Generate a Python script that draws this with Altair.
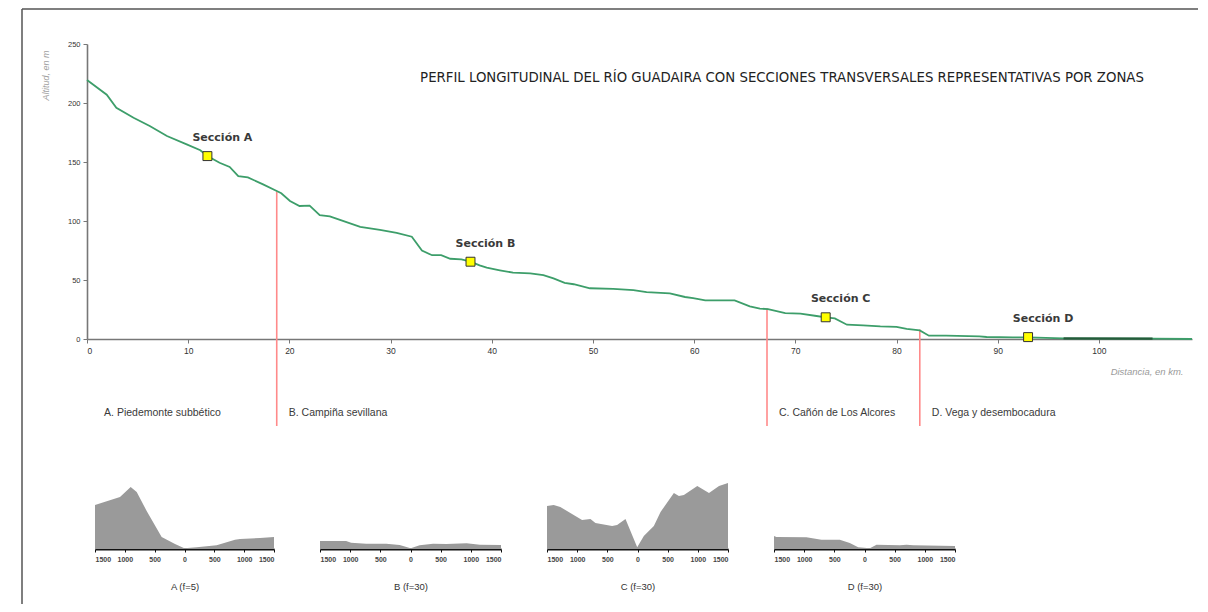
import altair as alt
import pandas as pd

# ---------------- data ----------------
title_text = "PERFIL LONGITUDINAL DEL RÍO GUADAIRA CON SECCIONES TRANSVERSALES REPRESENTATIVAS POR ZONAS"

profile_km = [0, 1.95, 2.9, 4.6, 6.2, 7.9, 9.85, 11.2, 11.9, 13.1, 14.1, 14.95, 15.9, 17.4,
              18.75, 19.2, 20.06, 21.0, 22.0, 23.0, 24.0, 25.0, 27.0, 28.95, 30.6, 32.1, 33.1,
              34.1, 35.0, 35.9, 37.0, 37.9, 38.8, 39.5, 40.8, 42.1, 43.8, 45.1, 46.1, 47.2,
              48.1, 49.7, 52.0, 54.0, 55.3, 57.6, 59.1, 59.9, 61.1, 64.0, 65.5, 66.5, 67.3,
              69.0, 70.5, 72.1, 73.0, 73.9, 75.1, 76.7, 78.4, 80.0, 81.0, 82.3, 83.2, 84.9,
              88.2, 88.9, 91.5, 93.0, 96.5, 105.3, 109.2]
profile_elev = [219.5, 207, 196, 187.5, 180.5, 172, 165, 160, 155, 149.4, 145.8, 138, 137, 131,
                125.4, 123.5, 117, 112.7, 113, 105, 104, 101, 95, 92.4, 90, 86.7, 75,
                71, 71, 68, 67.5, 65.5, 62.4, 60.4, 58.2, 56.2, 55.7, 54.2, 51.4, 47.5,
                46.4, 43, 42.4, 41.5, 39.8, 38.7, 35.6, 34.7, 32.8, 32.8, 27.7, 25.7, 25.4,
                22, 21.5, 19.5, 18.4, 17.5, 12.1, 11.6, 10.7, 10.2, 8.5, 7.3, 2.8, 2.8,
                2.3, 1.7, 1.4, 1.4, 0.6, 0.3, 0]

tidal_km = [96.5, 105.3]
tidal_elev = [0.6, 0.3]

section_names = ["Sección A", "Sección B", "Sección C", "Sección D"]
section_km = [11.9, 37.9, 73.0, 93.0]
section_elev = [155, 65.5, 18.4, 1.6]

zone_labels = ["A. Piedemonte subbético", "B. Campiña sevillana",
               "C. Cañón de Los Alcores", "D. Vega y desembocadura"]
zone_start_km = [0.5, 18.75, 67.2, 82.3]
boundary_km = [18.75, 67.2, 82.3]
boundary_elev = [125, 26, 8]

x_ticks = [0, 10, 20, 30, 40, 50, 60, 70, 80, 90, 100]
y_ticks = [0, 50, 100, 150, 200, 250]

cs_ticks = [-1500, -1000, -500, 0, 500, 1000, 1500]
cs_titles = ["A (f=5)", "B (f=30)", "C (f=30)", "D (f=30)"]
A_x = [-1500, -1081, -902, -801, -634, -383, -159, -3, 204, 539, 846, 930, 1265, 1500]
A_h = [44, 52, 62, 57, 38, 12, 5, 0.7, 1.7, 3.7, 9.3, 10, 11, 12]
B_x = [-1500, -1067, -984, -735, -402, -180, 3, 152, 374, 596, 929, 1150, 1500]
B_h = [8, 8, 6.3, 5.3, 5.3, 4, 0.7, 3.7, 5.3, 5, 5.7, 4.3, 4]
C_x = [-1500, -1389, -1279, -919, -780, -697, -421, -338, -199, -5, 105, 271, 382, 603,
       686, 769, 991, 1185, 1351, 1500]
C_h = [43, 44, 42, 29, 30, 26, 23, 24, 30, 1.7, 13, 23, 37, 56, 53, 54, 63, 56, 63, 66]
D_x = [-1500, -1461, -963, -714, -410, -244, -105, 89, 199, 587, 697, 808, 1500]
D_h = [13, 12, 11.7, 9.3, 9.3, 6, 1.7, 0.7, 4.3, 3.7, 4.3, 3.7, 3]

# ---------------- layout ----------------
W, H = 1105, 382
Y0 = 295  # pixel row of elevation 0 inside the main plot
FONT = "Liberation Sans"

x_scale = alt.Scale(domain=[0, 109.2], nice=False, zero=False)
y_scale = alt.Scale(domain=[0, 250], range=[Y0, 0], nice=False)

prof = pd.DataFrame({"km": profile_km, "elev": profile_elev})
tidal = pd.DataFrame({"km": tidal_km, "elev": tidal_elev})
sections = pd.DataFrame({"km": section_km, "elev": section_elev, "name": section_names})
zones = pd.DataFrame({"km": zone_start_km, "label": zone_labels})
bounds_df = pd.DataFrame({"km": boundary_km, "elev": boundary_elev})
one = pd.DataFrame({"t": [title_text]})

line = alt.Chart(prof).mark_line(color="#3d9e6a", strokeWidth=1.8).encode(
    x=alt.X("km:Q", scale=x_scale,
            axis=alt.Axis(values=x_ticks, offset=-(H - Y0), grid=False,
                          domainColor="#777777", domainWidth=1.6, tickColor="#777777",
                          tickSize=4, labelFontSize=8.5, labelColor="#333333", labelFont=FONT,
                          labelPadding=3, title="Distancia, en km.", titleFont=FONT,
                          titleFontStyle="italic", titleFontWeight="normal",
                          titleColor="#9a9a9a", titleFontSize=9.5, titleX=1096, titleY=32,
                          titleAlign="right", titleBaseline="middle")),
    y=alt.Y("elev:Q", scale=y_scale,
            axis=alt.Axis(values=y_ticks, grid=False, domainColor="#777777", domainWidth=1.6,
                          tickColor="#777777", tickSize=4, labelFontSize=7.5,
                          labelColor="#333333", labelFont=FONT, labelPadding=3,
                          title="Altitud, en m", titleFont=FONT, titleFontStyle="italic",
                          titleFontWeight="normal", titleColor="#a0a0a0", titleFontSize=9,
                          titleAngle=270, titleX=-42, titleY=6, titleAlign="right",
                          titleBaseline="middle")),
)

tidal_line = alt.Chart(tidal).mark_line(color="#235c3a", strokeWidth=2.2).encode(
    x="km:Q", y="elev:Q")

red = alt.Chart(bounds_df).mark_rule(color="#ff8a8a", strokeWidth=1.6).encode(
    x="km:Q", y="elev:Q", y2=alt.value(H))

markers = alt.Chart(sections).mark_square(size=80, fill="#ffff00", stroke="#333333",
                                          strokeWidth=1, opacity=1).encode(
    x="km:Q", y="elev:Q")

sec_text = alt.Chart(sections).mark_text(dx=15, dy=-18, fontSize=11, fontWeight="bold",
                                         font="DejaVu Sans", color="#3a3a3a").encode(
    x="km:Q", y="elev:Q", text="name:N")

zone_text = alt.Chart(zones).mark_text(align="left", baseline="middle", dx=12, fontSize=10.5,
                                       font=FONT, color="#3a3a3a").encode(
    x="km:Q", y=alt.value(369), text="label:N")

title = alt.Chart(one).mark_text(align="center", baseline="middle", fontSize=13.3,
                                 font="DejaVu Sans", color="#222222").encode(
    x=alt.value(695), y=alt.value(34), text="t:N")

frame_left = alt.Chart(one).mark_rule(color="#555555", strokeWidth=1.5).encode(
    x=alt.value(-65), y=alt.value(-35), y2=alt.value(560))
frame_top = alt.Chart(one).mark_rule(color="#555555", strokeWidth=1.5).encode(
    x=alt.value(-65), x2=alt.value(1111), y=alt.value(-35))

main = alt.layer(frame_left, frame_top, red, line, tidal_line, markers, sec_text,
                 zone_text, title).properties(width=W, height=H)


def panel(xs, hs, ttl, w, rng=None):
    df = pd.DataFrame({"d": xs, "h": hs})
    if rng is None:
        sc = alt.Scale(domain=[-1500, 1500], nice=False)
    else:
        sc = alt.Scale(domain=[-1500, 1500], range=rng, nice=False)
    return alt.Chart(df).mark_area(color="#9a9a9a", opacity=1).encode(
        x=alt.X("d:Q", scale=sc,
                axis=alt.Axis(values=cs_ticks, labelExpr="abs(datum.value)", grid=False,
                              domainColor="#111111", domainWidth=2, tickColor="#111111",
                              tickSize=3, labelFontSize=7, labelFontWeight="bold",
                              labelFont=FONT, labelColor="#444444", labelPadding=3,
                              labelOverlap=False, title=ttl, titleFont=FONT,
                              titleFontSize=9.5, titleFontWeight="normal",
                              titleColor="#333333", titleY=37, titleBaseline="middle")),
        y=alt.Y("h:Q", scale=alt.Scale(domain=[0, 70], nice=False), axis=None),
    ).properties(width=w, height=70)


row = alt.hconcat(
    panel(A_x, A_h, cs_titles[0], 187, [8, 187]),
    panel(B_x, B_h, cs_titles[1], 181),
    panel(C_x, C_h, cs_titles[2], 181),
    panel(D_x, D_h, cs_titles[3], 181),
    spacing=46, bounds="flush",
)

chart = alt.vconcat(main, row, spacing=53, bounds="flush").properties(
    padding={"left": 13, "top": 0, "right": 0, "bottom": 0},
    background="white",
).configure_view(stroke=None)

chart.save("out.html", embed_options={"renderer": "svg", "actions": False})
